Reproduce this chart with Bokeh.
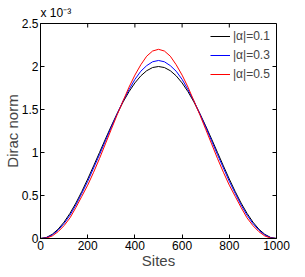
from bokeh.plotting import figure
from bokeh.models import FixedTicker, Legend, LegendItem, Range1d, Title
from bokeh.embed import file_html
from bokeh.resources import INLINE

# Sites (x) and Dirac norm values (in units of 1e-3)
sites = [0, 25, 50, 75, 100, 125, 150, 175, 200, 225, 250, 275, 300, 325, 350, 375, 400, 425, 450, 475, 500,
         525, 550, 575, 600, 625, 650, 675, 700, 725, 750, 775, 800, 825, 850, 875, 900, 925, 950, 975, 1000]
half_a01 = [0, 0.012, 0.049, 0.109, 0.191, 0.293, 0.412, 0.546, 0.691, 0.844, 1.0, 1.156, 1.309, 1.454, 1.588,
            1.707, 1.809, 1.891, 1.951, 1.988, 2.0]
half_a03 = [0, 0.009, 0.042, 0.098, 0.175, 0.272, 0.39, 0.525, 0.665, 0.82, 0.975, 1.135, 1.295, 1.45, 1.6,
            1.73, 1.85, 1.945, 2.01, 2.055, 2.07]
half_a05 = [0, 0.005, 0.03, 0.08, 0.15, 0.24, 0.36, 0.49, 0.62, 0.77, 0.93, 1.1, 1.27, 1.44, 1.6,
            1.76, 1.9, 2.02, 2.12, 2.18, 2.2]
norm_a01 = half_a01 + half_a01[-2::-1]
norm_a03 = half_a03 + half_a03[-2::-1]
norm_a05 = half_a05 + half_a05[-2::-1]

series_labels = ["|α|=0.1", "|α|=0.3", "|α|=0.5"]
series_colors = ["#000000", "#0000ff", "#ff0000"]
x_ticks = [0, 200, 400, 600, 800, 1000]
y_ticks = [0, 0.5, 1, 1.5, 2, 2.5]
y_tick_labels = ["0", "0.5", "1", "1.5", "2", "2.5"]
X_MIN, X_MAX, Y_MIN, Y_MAX = 0, 1000, 0, 2.5

FONT = "Liberation Sans"
FW, FH = 236, 215

p = figure(frame_width=FW, frame_height=FH, output_backend="svg", toolbar_location=None,
           x_range=Range1d(X_MIN, X_MAX), y_range=Range1d(Y_MIN, Y_MAX),
           min_border_left=30, min_border_right=16, min_border_top=14, min_border_bottom=10)
p.outline_line_color = "black"
p.outline_line_width = 1
p.xgrid.visible = False
p.ygrid.visible = False
p.background_fill_color = "white"

p.title = Title(text="x 10\u207b\u00b3", align="left", text_font=FONT, text_font_size="12px",
                text_font_style="normal", text_color="black", standoff=7, offset=0)

rs = []
for ys, c in zip([norm_a01, norm_a03, norm_a05], series_colors):
    rs.append(p.line(sites, ys, line_color=c, line_width=1))

def style_axis(ax):
    ax.major_tick_in = 4
    ax.major_tick_out = 0
    ax.minor_tick_in = 0
    ax.minor_tick_out = 0
    ax.axis_line_color = "black"
    ax.major_tick_line_color = "black"
    ax.major_label_text_font = FONT
    ax.major_label_text_font_size = "12px"
    ax.major_label_text_color = "black"
    ax.major_label_standoff = 2

xa = p.xaxis[0]
xa.ticker = FixedTicker(ticks=x_ticks)
style_axis(xa)
xa.axis_label = "Sites"
xa.axis_label_text_font = FONT
xa.axis_label_text_font_size = "15px"
xa.axis_label_text_font_style = "normal"
xa.axis_label_standoff = -1

ya = p.yaxis[0]
ya.ticker = FixedTicker(ticks=y_ticks)
ya.major_label_overrides = {t: l for t, l in zip(y_ticks, y_tick_labels)}
style_axis(ya)
ya.axis_label = "Dirac norm"
ya.axis_label_text_font = FONT
ya.axis_label_text_font_size = "15px"
ya.axis_label_text_font_style = "normal"
ya.axis_label_standoff = -2

# inward ticks on the top and right edges of the box (4 px long)
dy = 4 * (Y_MAX - Y_MIN) / FH
dx = 4 * (X_MAX - X_MIN) / FW
p.segment(x0=x_ticks, y0=[Y_MAX] * len(x_ticks), x1=x_ticks, y1=[Y_MAX - dy] * len(x_ticks),
          line_color="black", line_width=1)
p.segment(x0=[X_MAX] * len(y_ticks), y0=y_ticks, x1=[X_MAX - dx] * len(y_ticks), y1=y_ticks,
          line_color="black", line_width=1)

legend = Legend(items=[LegendItem(label=l, renderers=[r]) for l, r in zip(series_labels, rs)],
                location=(168, FH - 62))
legend.border_line_alpha = 0
legend.background_fill_alpha = 0
legend.label_text_font = FONT
legend.label_text_font_size = "12px"
legend.glyph_width = 20
legend.glyph_height = 18
legend.label_standoff = 3
legend.spacing = 1
legend.label_height = 18
legend.margin = 0
legend.padding = 2
p.add_layout(legend)

open("out.html", "w").write(file_html(p, INLINE))
